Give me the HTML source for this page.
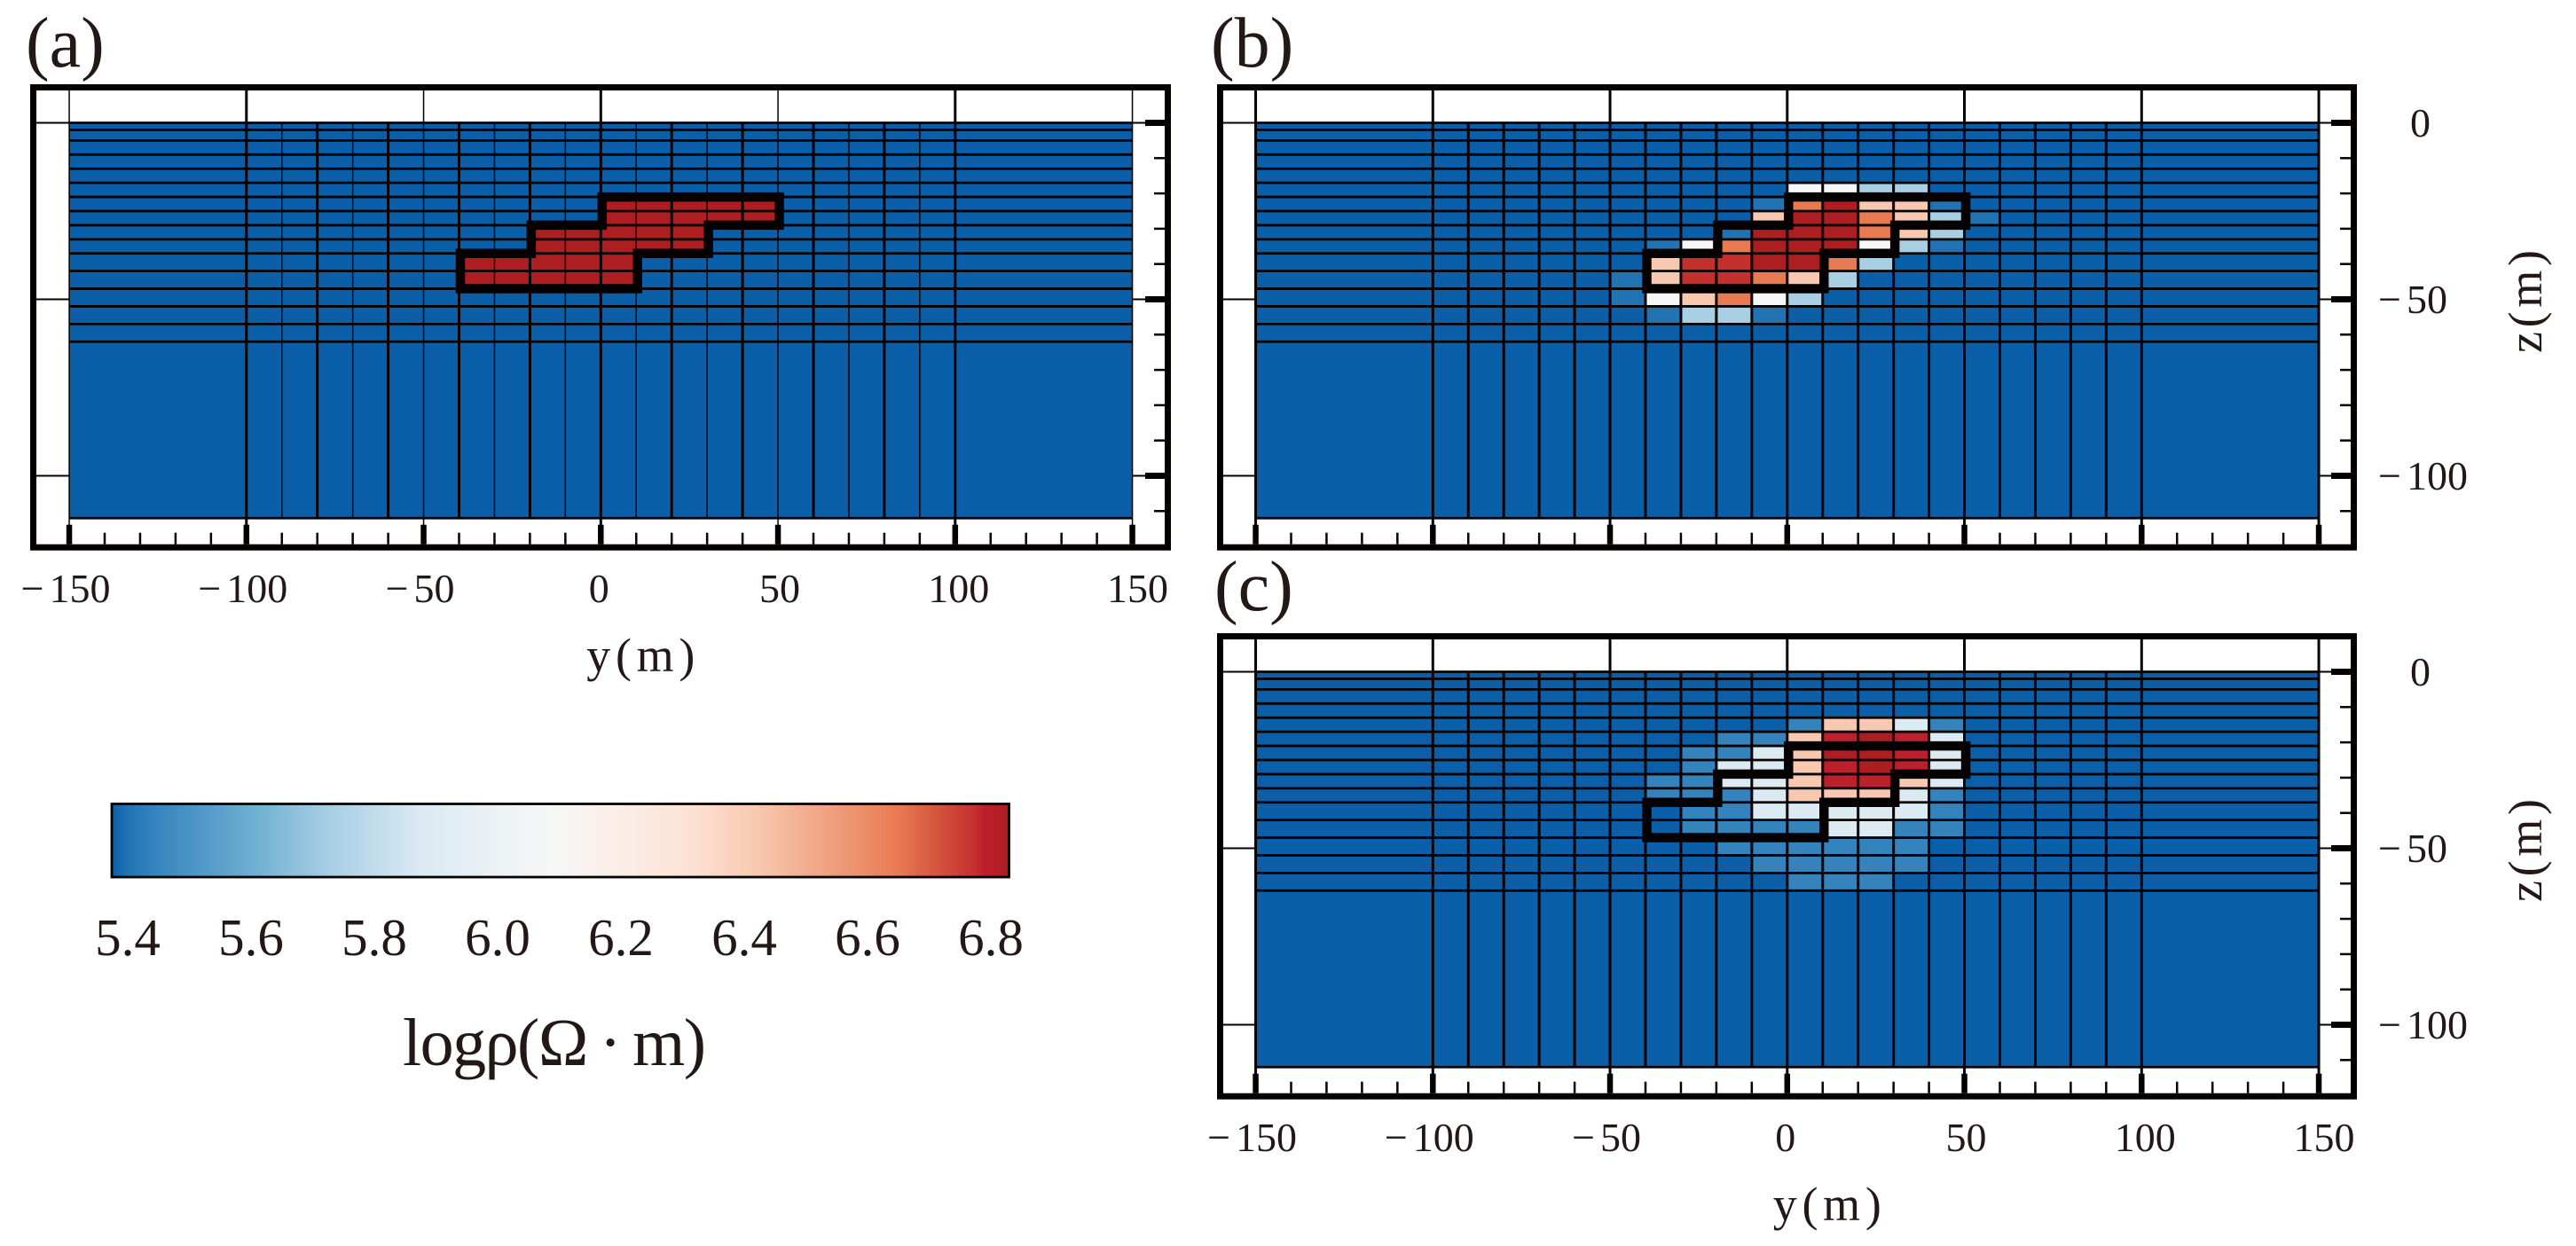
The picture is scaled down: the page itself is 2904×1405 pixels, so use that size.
<!DOCTYPE html>
<html lang="en">
<head>
<meta charset="utf-8">
<title>Resistivity model sections</title>
<style>
html,body{margin:0;padding:0;background:#fff;width:2904px;height:1405px;overflow:hidden}
svg{display:block}
text{font-family:"Liberation Serif","DejaVu Serif",serif;fill:#231815}
</style>
</head>
<body>
<svg id="chart" xmlns="http://www.w3.org/2000/svg" width="2904" height="1405" viewBox="0 0 2904 1405"></svg>
<script>
// Mesh edges
const yEdges = [-150,-100,-90,-80,-70,-60,-50,-40,-30,-20,-10,0,10,20,30,40,50,60,70,80,90,100,150];
const zEdges = [0,-2,-5,-9,-13,-17,-21,-25,-29,-33,-37,-42,-47,-52,-57,-62,-112];
const xTicks = [-150,-100,-50,0,50,100,150];
const zTicks = [0,-50,-100];
const cbTicks = [5.4,5.6,5.8,6.0,6.2,6.4,6.6,6.8];
const backgroundLog = 5.37;
// Colormap: logρ value and colour
const cmapValues = [5.374,5.40,5.44,5.607,5.73,5.88,6.09,6.308,6.42,6.65,6.775,6.79,6.83];
const cmapColors = ['#0b5fa8','#2173b3','#3483bd','#6fb0d2','#a9cfe5','#dceaf2','#f7f7f7','#fde3d6','#f8c9b0','#e87a52','#c4302e','#bd1f2c','#ad1e23'];
// Anomaly windows: rows begin at z=-13, columns begin at y=-50 (all 10 m wide)
const modelA = [
[5.37,5.37,5.37,5.37,5.37,5.37,5.37,5.37,5.37,5.37,5.37],
[5.37,5.37,5.37,5.37,5.37,5.37,5.37,5.37,5.37,5.37,5.37],
[5.37,5.37,5.37,5.37,5.37,6.83,6.83,6.83,6.83,6.83,5.37],
[5.37,5.37,5.37,5.37,5.37,6.83,6.83,6.83,6.83,6.83,5.37],
[5.37,5.37,5.37,6.83,6.83,6.83,6.83,6.83,5.37,5.37,5.37],
[5.37,5.37,5.37,6.83,6.83,6.83,6.83,6.83,5.37,5.37,5.37],
[5.37,6.83,6.83,6.83,6.83,6.83,5.37,5.37,5.37,5.37,5.37],
[5.37,6.83,6.83,6.83,6.83,6.83,5.37,5.37,5.37,5.37,5.37],
[5.37,5.37,5.37,5.37,5.37,5.37,5.37,5.37,5.37,5.37,5.37],
[5.37,5.37,5.37,5.37,5.37,5.37,5.37,5.37,5.37,5.37,5.37],
[5.37,5.37,5.37,5.37,5.37,5.37,5.37,5.37,5.37,5.37,5.37]];
const modelB = [
[5.37,5.37,5.37,5.37,5.37,5.37,5.37,5.37,5.37,5.37,5.37],
[5.37,5.37,5.37,5.37,5.37,6.09,6.09,5.73,5.73,5.37,5.37],
[5.37,5.37,5.37,5.37,5.40,6.65,6.83,6.42,6.42,5.40,5.37],
[5.37,5.37,5.37,5.37,6.42,6.83,6.83,6.65,6.42,5.73,5.40],
[5.37,5.37,5.37,5.40,6.83,6.83,6.83,6.65,6.42,5.73,5.37],
[5.37,5.40,6.09,6.65,6.83,6.83,6.83,6.09,5.73,5.40,5.37],
[5.37,6.42,6.775,6.775,6.83,6.83,6.65,5.73,5.37,5.37,5.37],
[5.40,6.42,6.775,6.775,6.65,6.42,5.73,5.37,5.37,5.37,5.37],
[5.40,6.09,6.42,6.65,6.09,5.73,5.37,5.37,5.37,5.37,5.37],
[5.37,5.40,5.73,5.73,5.40,5.37,5.37,5.37,5.37,5.37,5.37],
[5.37,5.37,5.37,5.37,5.37,5.37,5.37,5.37,5.37,5.37,5.37]];
const modelC = [
[5.37,5.37,5.37,5.37,5.37,5.44,6.42,6.42,5.88,5.44,5.37],
[5.37,5.37,5.37,5.44,5.44,6.42,6.79,6.83,6.79,5.88,5.37],
[5.37,5.37,5.44,5.44,5.88,6.42,6.83,6.83,6.79,5.88,5.37],
[5.37,5.37,5.44,5.88,5.88,6.42,6.79,6.83,6.79,5.88,5.37],
[5.37,5.44,5.44,5.88,5.88,6.42,6.79,6.79,6.42,5.88,5.37],
[5.37,5.44,5.44,5.44,5.88,6.42,6.42,6.42,5.88,5.44,5.37],
[5.37,5.37,5.44,5.44,5.88,5.88,5.88,5.88,5.88,5.44,5.37],
[5.37,5.37,5.44,5.44,5.44,5.44,5.88,5.88,5.44,5.44,5.37],
[5.37,5.37,5.37,5.44,5.44,5.44,5.44,5.44,5.44,5.37,5.37],
[5.37,5.37,5.37,5.37,5.44,5.44,5.44,5.44,5.44,5.37,5.37],
[5.37,5.37,5.37,5.37,5.37,5.44,5.44,5.44,5.37,5.37,5.37]];
// True-body outline vertices
const outlineY = [-40,-20,-20,0,0,50,50,30,30,10,10,-40];
const outlineZ = [-37,-37,-29,-29,-21,-21,-29,-29,-37,-37,-47,-47];

const NS = 'http://www.w3.org/2000/svg';
const svg = document.getElementById('chart');
const PX_PER_Y = 3.995, PX_PER_Z = 3.98;

function make(tag, attrs, parent) {
  const n = document.createElementNS(NS, tag);
  for (const k in attrs) n.setAttribute(k, attrs[k]);
  parent.appendChild(n);
  return n;
}
function hexRgb(h){return [1,3,5].map(i=>parseInt(h.substr(i,2),16));}
function colorOf(v){
  if (v <= cmapValues[0]) return cmapColors[0];
  for (let i=1;i<cmapValues.length;i++){
    if (v <= cmapValues[i]){
      const t=(v-cmapValues[i-1])/(cmapValues[i]-cmapValues[i-1]);
      const a=hexRgb(cmapColors[i-1]), b=hexRgb(cmapColors[i]);
      return 'rgb('+a.map((c,j)=>Math.round(c+(b[j]-c)*t)).join(',')+')';
    }
  }
  return cmapColors[cmapColors.length-1];
}
function tickLabel(v){return Math.abs(v);}
function addLabel(parent,x,y,v,size,anchor,nameStr){
  const t = make('text',{x:x,y:y,'font-size':size,'text-anchor':anchor},parent);
  
  
  if (v<0){
    t.appendChild(document.createTextNode('\u2212'));
    const s = make('tspan',{dx:6},t);
    s.textContent = tickLabel(v);
  } else {
    t.textContent = tickLabel(v);
  }
  return t;
}

function drawPanel(id, model, x0, top, left, right, showX, showZ){
  const X = y => x0 + PX_PER_Y*y;
  const Z = z => top + 43.5 + PX_PER_Z*(-z);
  const bottom = top + 525.7;
  const g = make('g',{},svg);
  
  

  // cells
  const cells = make('g',{},g);
  
  
  for (let r=0;r<zEdges.length-1;r++){
    for (let c=0;c<yEdges.length-1;c++){
      const row = model[r-4];
      const val = row ? row[c-6] : undefined;
      const v = val===undefined ? backgroundLog : val;
      const rect = make('rect',{x:X(yEdges[c]),y:Z(zEdges[r]),width:X(yEdges[c+1])-X(yEdges[c]),height:Z(zEdges[r+1])-Z(zEdges[r]),fill:colorOf(v)},cells);
      
      
    }
  }
  // mesh lines
  const mesh = make('g',{stroke:'#040000'},g);
  
  
  zEdges.forEach(z=>{
    const l = make('line',{x1:X(-150),x2:X(150),y1:Z(z),y2:Z(z),'stroke-width':2.8},mesh);
    
    
  });
  yEdges.forEach(y=>{
    const major = xTicks.indexOf(y)>=0;
    let w = 3;
    if (id==='a') w = (y%20===0 && Math.abs(y)!==150) ? 3 : 1.5;
    const l = make('line',{x1:X(y),x2:X(y),y1:major?top+5:Z(0),y2:major?bottom-10:Z(-112),'stroke-width':w},mesh);
    
    
  });
  // x ticks (bottom)
  for (let y=-150;y<=150;y+=10){
    const major = xTicks.indexOf(y)>=0;
    const t = make('line',{x1:X(y),x2:X(y),y1:bottom-7,y2:bottom-(major?29:20),stroke:'#040000','stroke-width':major?6.5:2.5},g);
    
    
  }
  // z ticks (right) and side guide lines
  for (let z=0;z>=-110;z-=10){
    const major = zTicks.indexOf(z)>=0;
    const t = make('line',{x1:right-7,x2:right-(major?29:19),y1:Z(z),y2:Z(z),stroke:'#040000','stroke-width':major?7:2.5},g);
    
    
  }
  zTicks.forEach(z=>{
    const a = make('line',{x1:left+5,x2:X(-150),y1:Z(z),y2:Z(z),stroke:'#040000','stroke-width':2},g);
    
    
    const b = make('line',{x1:X(150),x2:right-25,y1:Z(z),y2:Z(z),stroke:'#040000','stroke-width':2},g);
    
    
  });
  // true body outline
  const pts = outlineY.map((y,i)=>(X(y)+1.5)+','+Z(outlineZ[i])).join(' ');
  const poly = make('polygon',{points:pts,fill:'none',stroke:'#040000','stroke-width':10.5,'stroke-linejoin':'miter'},g);
  
  
  // frame
  const frame = make('rect',{x:left+3.5,y:top+3.5,width:right-left-7,height:525.7-7,fill:'none',stroke:'#040000','stroke-width':7},g);
  
  

  if (showX){
    xTicks.forEach(v=>{
      const shift = v<0 ? -4 : (v===0 ? -2 : v*0.04);
      addLabel(g, X(v)+shift, bottom+58.5, v, 46, 'middle', 'x-tick-label');
    });
    const lab = make('text',{x:X(0)+45,y:bottom+136.5,'font-size':54,'text-anchor':'middle',textLength:122},g);
    
    
    lab.textContent = 'y(m)';
  }
  if (showZ){
    zTicks.forEach(v=>{
      addLabel(g, v<0?right+24:right+60, Z(v)+15.5, v, 46, 'start', 'z-tick-label');
    });
    const cy = top+245;
    const lab = make('text',{x:right+208,y:cy,'font-size':54,'text-anchor':'middle',textLength:116,transform:'rotate(-90 '+(right+208)+' '+cy+')'},g);
    
    
    lab.textContent = 'z(m)';
  }
}

drawPanel('a', modelA, 677.3, 95, 34, 1320, true, false);
drawPanel('b', modelB, 2014.8, 95, 1372, 2657, false, true);
drawPanel('c', modelC, 2014.8, 714, 1372, 2657, true, true);

// Panel letters
const letterText = ['(a)','(b)','(c)'];
const letterNames = ['panel-a-letter','panel-b-letter','panel-c-letter'];
const letterX = [29,1365,1369];
const letterY = [75,75,688];
letterText.forEach((s,i)=>{
  const t = make('text',{x:letterX[i],y:letterY[i],'font-size':80},svg);
  
  
  t.textContent = s;
});

// Colorbar
const CB_L=126, CB_R=1137.5, CB_T=906.5, CB_B=989;
const CB_V0=5.374, CB_V1=6.83;
const CBX = v => 144 + (v-5.4)*695;
const defs = make('defs',{},svg);
const grad = make('linearGradient',{id:'cbGrad',x1:0,x2:1,y1:0,y2:0},defs);
cmapValues.forEach((v,i)=>{
  make('stop',{offset:(v-CB_V0)/(CB_V1-CB_V0),'stop-color':cmapColors[i]},grad);
});
const cb = make('rect',{x:CB_L,y:CB_T,width:CB_R-CB_L,height:CB_B-CB_T,fill:'url(#cbGrad)',stroke:'#040000','stroke-width':2.8},svg);


cbTicks.forEach(v=>{
  const t = make('text',{x:CBX(v),y:1077,'font-size':59,'text-anchor':'middle'},svg);
  
  
  t.textContent = v.toFixed(1);
});
const cbTitle = make('text',{x:454,y:1201,'font-size':76,textLength:342},svg);


cbTitle.textContent = 'logρ(Ω\u2009·\u2009m)';
</script>
</body>
</html>
